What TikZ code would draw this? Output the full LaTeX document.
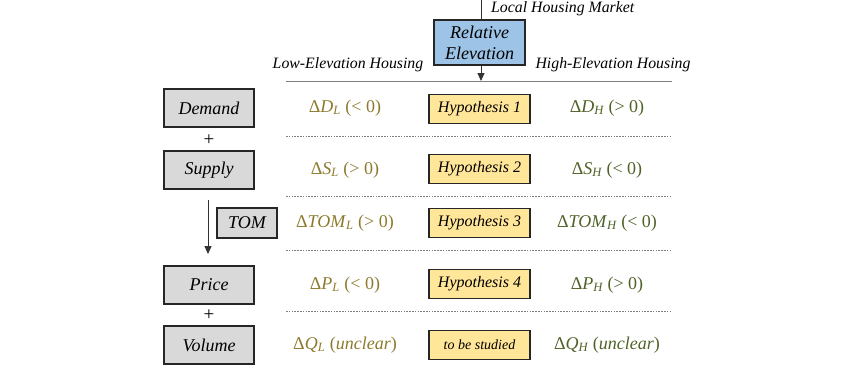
\documentclass[tikz,border=0pt]{standalone}
\usepackage{fontspec}
\setmainfont{Liberation Serif}
\usetikzlibrary{arrows.meta}
\definecolor{lowc}{HTML}{8C7A2C}
\definecolor{highc}{HTML}{4F6228}
\definecolor{grayfill}{HTML}{D9D9D9}
\definecolor{blfill}{HTML}{9DC3E6}
\definecolor{yfill}{HTML}{FFE699}
\definecolor{linec}{HTML}{7F7F7F}
\newcommand{\sbs}[1]{\textsubscript{\itshape #1}}
\begin{document}
\begin{tikzpicture}[x=1pt,y=-1pt,
  graybox/.style={draw=black!85, line width=1.1pt, fill=grayfill, minimum width=90pt, minimum height=38pt, inner sep=0pt, font=\fontsize{18}{21}\selectfont\itshape},
  hypbox/.style={draw=black!85, line width=1.1pt, fill=yfill, minimum width=101pt, minimum height=29pt, inner sep=0pt, font=\fontsize{16}{19}\selectfont\itshape},
  lowtxt/.style={text=lowc, font=\fontsize{18}{21}\selectfont},
  hightxt/.style={text=highc, font=\fontsize{18}{21}\selectfont},
  hdr/.style={font=\fontsize{15.8}{19}\selectfont\itshape},
  solidline/.style={draw=linec, line width=1pt},
  dashline/.style={draw=linec, line width=0.9pt, dash pattern=on 1.6pt off 1.2pt},
  arr/.style={draw=black!80, line width=1pt, -{Triangle[length=8pt,width=7pt]}}
]
\useasboundingbox (0,0) rectangle (865,368);

% top part
\coordinate (top) at (481,0);
\node[draw=black!85, line width=1.1pt, fill=blfill, minimum width=91pt, minimum height=45pt, inner sep=0pt, align=center, font=\fontsize{18}{21}\selectfont\itshape] (rel) at (479.5,42.5) {Relative\\Elevation};
\node[hdr, anchor=base west, inner sep=0pt] (lhm) at (491,12.5) {Local Housing Market};
\node[hdr] (low) at (348,65) {Low-Elevation Housing};
\node[hdr] (high) at (613,65) {High-Elevation Housing};
\coordinate (hl) at (286,81);
\coordinate (hr) at (672,81);
\coordinate (hm) at (481,81);
\draw[black!80, line width=1pt] (top) -- (top|-rel.north);
\draw[solidline] (hl) -- (hr);
\draw[arr] (hm|-rel.south) -- (hm);

% dashed separators
\foreach \yy/\nm in {136/d1,196/d2,250/d3,311/d4}{
  \coordinate (\nm l) at (286,\yy);
  \coordinate (\nm r) at (672,\yy);
  \draw[dashline] (\nm l) -- (\nm r);
}

% left boxes
\node[graybox] (dem) at (209,108) {Demand};
\node[graybox] (sup) at (209,170) {Supply};
\node[graybox] (pri) at (209,285) {Price};
\node[graybox] (vol) at (209,345) {Volume};
\node[draw=black!85, line width=1.1pt, fill=grayfill, minimum width=60pt, minimum height=30pt, inner sep=0pt, font=\fontsize{18}{21}\selectfont\itshape] (tom) at (247,223) {TOM};
\node[font=\fontsize{19}{20}\selectfont] (p1) at (209,140) {+};
\node[font=\fontsize{19}{20}\selectfont] (p2) at (209,315) {+};
\coordinate (ta) at (208,200);
\coordinate (tb) at (208,254);
\draw[arr] (ta) -- (tb);

% low column
\node[lowtxt] (l1) at (345,108) {Δ\textit{D}\sbs{L} (< 0)};
\node[lowtxt] (l2) at (345,170) {Δ\textit{S}\sbs{L} (> 0)};
\node[lowtxt] (l3) at (345,223) {Δ\textit{TOM}\sbs{L} (> 0)};
\node[lowtxt] (l4) at (345,285) {Δ\textit{P}\sbs{L} (< 0)};
\node[lowtxt] (l5) at (345,345) {Δ\textit{Q}\sbs{L} (\textit{unclear})};

% hypothesis column
\node[hypbox] (h1) at (479.5,109) {Hypothesis 1};
\node[hypbox] (h2) at (479.5,169) {Hypothesis 2};
\node[hypbox] (h3) at (479.5,223) {Hypothesis 3};
\node[hypbox] (h4) at (479.5,284) {Hypothesis 4};
\node[hypbox, font=\fontsize{14}{17}\selectfont\itshape] (h5) at (479.5,345) {to be studied};

% high column
\node[hightxt] (r1) at (607,108) {Δ\textit{D}\sbs{H} (> 0)};
\node[hightxt] (r2) at (607,170) {Δ\textit{S}\sbs{H} (< 0)};
\node[hightxt] (r3) at (607,223) {Δ\textit{TOM}\sbs{H} (< 0)};
\node[hightxt] (r4) at (607,285) {Δ\textit{P}\sbs{H} (> 0)};
\node[hightxt] (r5) at (607,345) {Δ\textit{Q}\sbs{H} (\textit{unclear})};
\end{tikzpicture}
\end{document}
